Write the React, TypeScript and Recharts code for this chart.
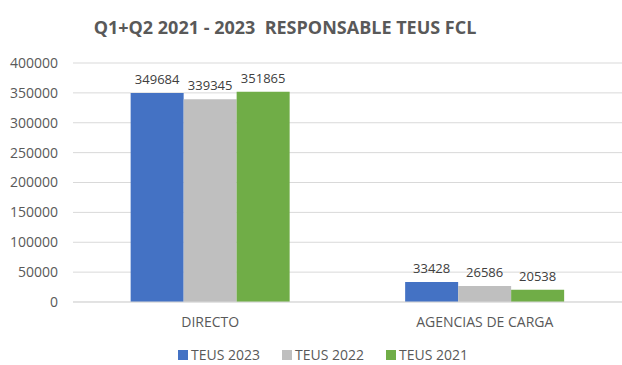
import React from 'react';
import { BarChart, Bar, XAxis, YAxis, CartesianGrid, Legend, LabelList } from 'recharts';

// Categories and series
const categories = ['DIRECTO', 'AGENCIAS DE CARGA'];
const teus2023 = [349684, 33428];
const teus2022 = [339345, 26586];
const teus2021 = [351865, 20538];
const yTicks = [0, 50000, 100000, 150000, 200000, 250000, 300000, 350000, 400000];

const FONT = '"Open Sans", sans-serif';
const TEXT = '#595959';

const SERIES = [
  { key: 't2023', name: 'TEUS 2023', color: '#4472C4' },
  { key: 't2022', name: 'TEUS 2022', color: '#BFBFBF' },
  { key: 't2021', name: 'TEUS 2021', color: '#70AD47' },
];

const data = categories.map((name, i) => ({
  name,
  t2023: teus2023[i],
  t2022: teus2022[i],
  t2021: teus2021[i],
}));

// Legend in series order (recharts would sort it by name)
const renderLegend = () => (
  <div
    style={{
      height: 33,
      display: 'flex',
      justifyContent: 'center',
      alignItems: 'flex-end',
      paddingLeft: 46,
      paddingBottom: 2,
      boxSizing: 'border-box',
    }}
  >
    {SERIES.map((s) => (
      <div key={s.key} style={{ display: 'flex', alignItems: 'center', marginRight: 22, height: 16 }}>
        <span style={{ width: 10, height: 10, background: s.color, marginRight: 3, display: 'inline-block' }} />
        <span style={{ fontSize: 14, lineHeight: '16px', color: TEXT, fontFamily: FONT }}>{s.name}</span>
      </div>
    ))}
  </div>
);

const App: React.FC = () => {
  return (
    <div style={{ position: 'absolute', left: 0, top: 0, width: 622, height: 365, background: '#fff', fontFamily: FONT }}>
      <div
        style={{
          position: 'absolute',
          left: 0,
          width: 570,
          top: 15,
          textAlign: 'center',
          fontSize: 18,
          fontWeight: 700,
          color: TEXT,
          whiteSpace: 'pre',
        }}
      >
        {'Q1+Q2 2021 - 2023  RESPONSABLE TEUS FCL'}
      </div>
      <BarChart
        width={622}
        height={365}
        data={data}
        margin={{ top: 63, right: 0, left: 0, bottom: 0 }}
        barCategoryGap="21%"
        barGap={0}
      >
        <CartesianGrid vertical={false} stroke="#D9D9D9" strokeWidth={1} />
        <XAxis
          dataKey="name"
          axisLine={{ stroke: '#D9D9D9' }}
          tickLine={false}
          tickSize={0}
          tickMargin={15}
          height={30}
          tick={{ fill: TEXT, fontSize: 14, fontFamily: FONT }}
        />
        <YAxis
          width={73}
          domain={[0, 400000]}
          ticks={yTicks}
          axisLine={false}
          tickLine={false}
          tickSize={0}
          tickMargin={15}
          tick={{ fill: TEXT, fontSize: 14, fontFamily: FONT }}
        />
        <Legend verticalAlign="bottom" height={33} content={renderLegend} />
        {SERIES.map((s) => (
          <Bar key={s.key} dataKey={s.key} name={s.name} fill={s.color} isAnimationActive={false}>
            <LabelList dataKey={s.key} position="top" offset={9} fill="#404040" fontSize={13} fontFamily={FONT} />
          </Bar>
        ))}
      </BarChart>
    </div>
  );
};

export default App;
